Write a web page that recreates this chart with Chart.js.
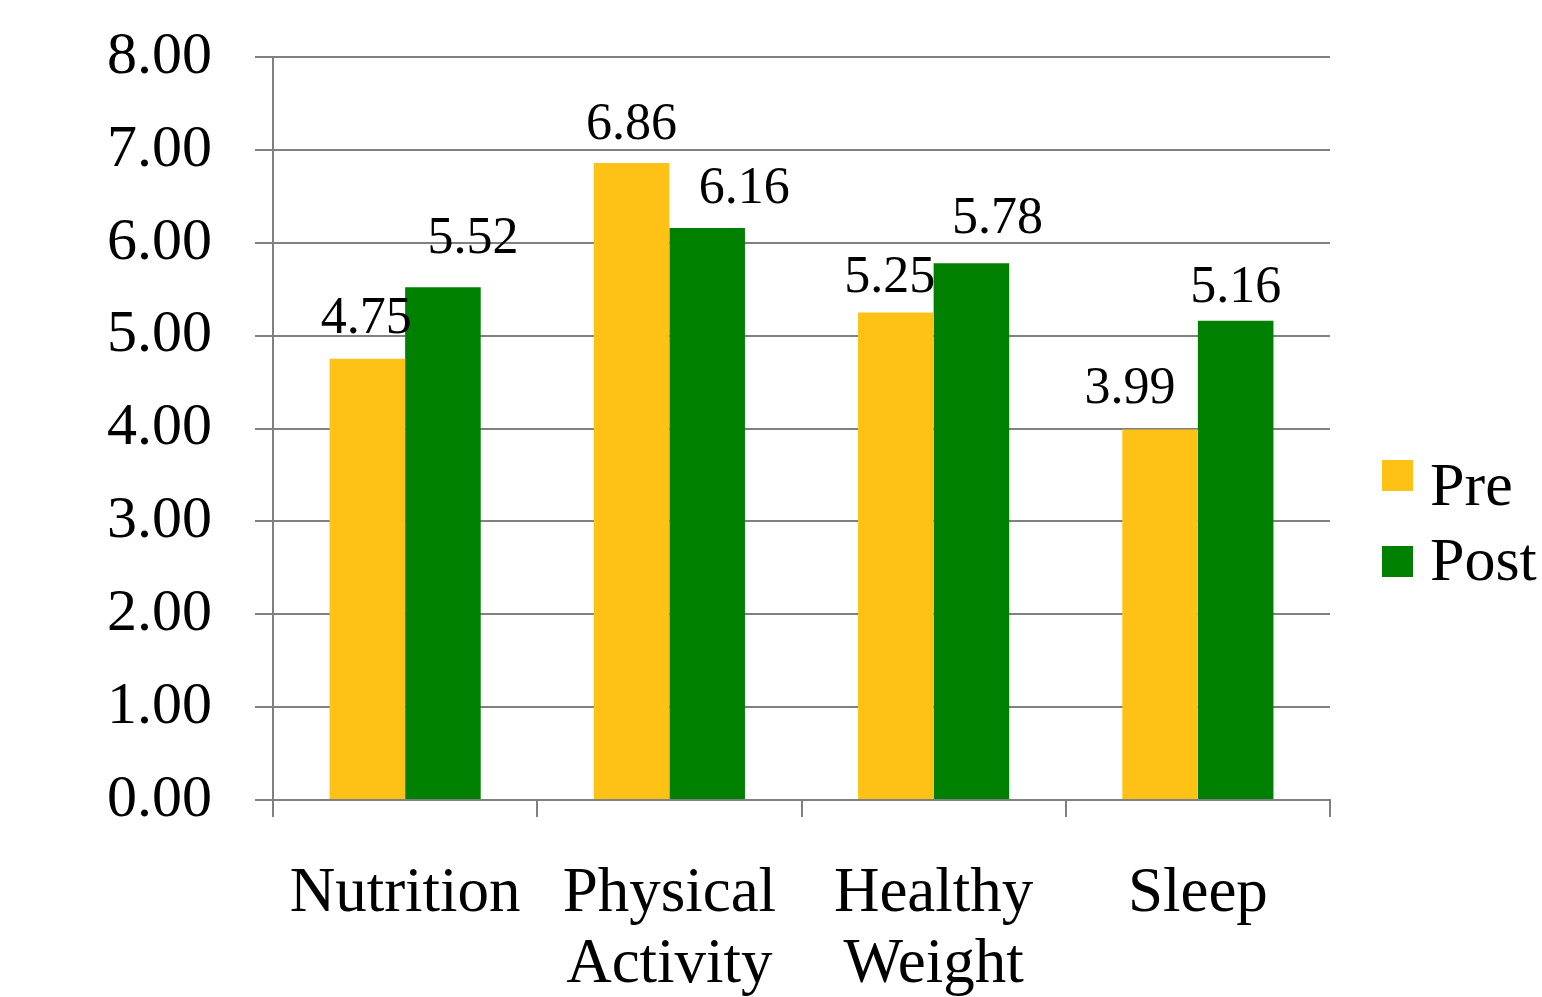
<!DOCTYPE html>
<html>
<head>
<meta charset="utf-8">
<title>Pre / Post scores</title>
<script src="https://cdn.jsdelivr.net/npm/chart.js@4/dist/chart.umd.min.js"></script>
<style>
  html, body { margin: 0; padding: 0; background: #ffffff; }
  #wrap { width: 1542px; height: 997px; }
</style>
</head>
<body>
<div id="wrap"><canvas id="chart" width="1542" height="997"></canvas></div>
<script>
// Categories (multi-line labels are arrays)
const categories = ['Nutrition', ['Physical', 'Activity'], ['Healthy', 'Weight'], 'Sleep'];
const seriesNames = ['Pre', 'Post'];
const preValues = [4.75, 6.86, 5.25, 3.99];
const postValues = [5.52, 6.16, 5.78, 5.16];
const yTicks = [0, 1, 2, 3, 4, 5, 6, 7, 8];

// Hand-placed value label nudges (pixels), per series and category
const labelNudgeX = [[-1, 0, -6, -30], [30, 37, 26, 0]];
const labelLift = [[26, 24, 20, 26], [34, 25, 30, 19]];

const FONT = '"Liberation Serif", "Times New Roman", Times, serif';
const GRID = '#808080';
const colors = ['#FEC216', '#008000'];

const valueLabels = {
  id: 'valueLabels',
  afterDatasetsDraw(chart) {
    const ctx = chart.ctx;
    ctx.save();
    ctx.fillStyle = '#000000';
    ctx.font = '52px ' + FONT;
    ctx.textAlign = 'center';
    ctx.textBaseline = 'alphabetic';
    chart.data.datasets.forEach((ds, di) => {
      const meta = chart.getDatasetMeta(di);
      meta.data.forEach((bar, i) => {
        ctx.fillText(ds.data[i].toFixed(2), bar.x + labelNudgeX[di][i], bar.y - labelLift[di][i]);
      });
    });
    ctx.restore();
  }
};

const sideLegend = {
  id: 'sideLegend',
  afterDraw(chart) {
    const ctx = chart.ctx;
    ctx.save();
    ctx.font = '62px ' + FONT;
    ctx.textAlign = 'left';
    ctx.textBaseline = 'alphabetic';
    const rows = [{ box: 460, base: 505 }, { box: 546, base: 580 }];
    chart.data.datasets.forEach((ds, di) => {
      ctx.fillStyle = ds.backgroundColor;
      ctx.fillRect(1382, rows[di].box, 31, 31);
      ctx.fillStyle = '#000000';
      ctx.fillText(ds.label, 1430, rows[di].base);
    });
    ctx.restore();
  }
};

new Chart(document.getElementById('chart'), {
  type: 'bar',
  data: {
    labels: categories,
    datasets: [
      { label: seriesNames[0], data: preValues, backgroundColor: colors[0], borderWidth: 0 },
      { label: seriesNames[1], data: postValues, backgroundColor: colors[1], borderWidth: 0 }
    ]
  },
  options: {
    responsive: false,
    animation: false,
    events: [],
    layout: { padding: { top: 57, right: 212, left: 0, bottom: 0 } },
    datasets: { bar: { categoryPercentage: 0.572, barPercentage: 1.0 } },
    plugins: {
      legend: { display: false },
      tooltip: { enabled: false },
      title: { display: false }
    },
    scales: {
      x: {
        afterFit(scale) {
          scale.height = 197;
          scale.paddingLeft = 0;
          scale.paddingRight = 0;
        },
        grid: {
          offset: true,
          drawOnChartArea: false,
          drawTicks: true,
          tickLength: 17,
          color: GRID,
          lineWidth: 2
        },
        border: { display: true, color: GRID, width: 2 },
        ticks: {
          color: '#000000',
          padding: 42,
          maxRotation: 0,
          autoSkip: false,
          font: { family: FONT, size: 63, lineHeight: 1.13 }
        }
      },
      y: {
        min: yTicks[0],
        max: yTicks[yTicks.length - 1],
        afterFit(scale) {
          scale.width = 273;
          scale.paddingTop = 0;
          scale.paddingBottom = 0;
        },
        afterBuildTicks(scale) { scale.ticks = yTicks.map(v => ({ value: v })); },
        grid: {
          color: GRID,
          lineWidth: 2,
          drawTicks: true,
          tickLength: 18
        },
        border: { display: true, color: GRID, width: 2 },
        ticks: {
          color: '#000000',
          padding: 43,
          font: { family: FONT, size: 60 },
          callback: v => Number(v).toFixed(2)
        }
      }
    }
  },
  plugins: [valueLabels, sideLegend]
});
</script>
</body>
</html>
